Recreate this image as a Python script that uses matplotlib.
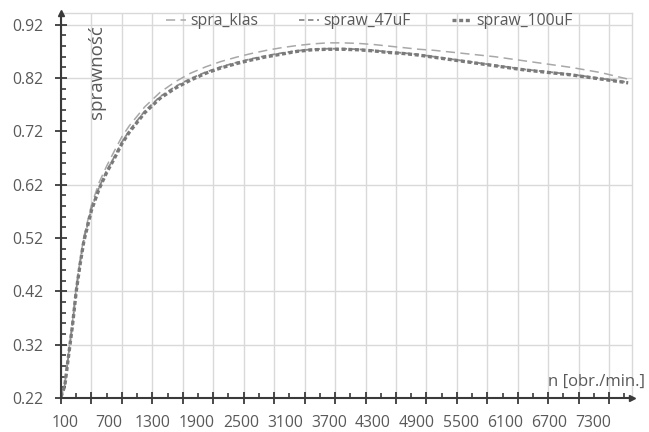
import numpy as np
import matplotlib
matplotlib.use("Agg")
import matplotlib.pyplot as plt

plt.rcParams['font.family'] = ['Open Sans', 'DejaVu Sans']
plt.rcParams['axes.grid'] = False

# rotational speed [rpm] and efficiency of the three motor variants
n_rpm = [100, 150, 200, 250, 300, 350, 400, 500, 600, 700, 800, 900, 1000,
         1200, 1400, 1600, 1800, 2000, 2200, 2400, 2600, 2800, 3000, 3200,
         3400, 3600, 3800, 4000, 4200, 4400, 4600, 4800, 5000, 5200, 5400,
         5600, 5800, 6000, 6200, 6400, 6600, 6800, 7000, 7200, 7400, 7550]

spra_klas = [0.222, 0.248, 0.305, 0.362, 0.428, 0.478, 0.522, 0.582, 0.624,
             0.655, 0.683, 0.710, 0.731, 0.766, 0.793, 0.813, 0.829, 0.841,
             0.851, 0.859, 0.866, 0.872, 0.877, 0.881, 0.884, 0.886, 0.886,
             0.885, 0.883, 0.880, 0.877, 0.874, 0.872, 0.869, 0.866, 0.863,
             0.860, 0.856, 0.852, 0.848, 0.844, 0.840, 0.835, 0.830, 0.823,
             0.818]

spraw_47uF = [0.222, 0.245, 0.302, 0.357, 0.423, 0.473, 0.517, 0.575, 0.615,
              0.646, 0.672, 0.700, 0.722, 0.758, 0.785, 0.804, 0.819, 0.831,
              0.841, 0.849, 0.856, 0.862, 0.867, 0.871, 0.874, 0.875, 0.875,
              0.874, 0.872, 0.869, 0.867, 0.864, 0.860, 0.856, 0.852, 0.848,
              0.844, 0.840, 0.836, 0.833, 0.830, 0.827, 0.823, 0.819, 0.815,
              0.812]

spraw_100uF = [0.222, 0.243, 0.300, 0.355, 0.420, 0.470, 0.514, 0.572, 0.612,
               0.643, 0.669, 0.697, 0.719, 0.755, 0.782, 0.801, 0.816, 0.829,
               0.839, 0.847, 0.854, 0.860, 0.865, 0.870, 0.873, 0.874, 0.874,
               0.873, 0.871, 0.868, 0.866, 0.863, 0.859, 0.855, 0.851, 0.847,
               0.843, 0.839, 0.835, 0.832, 0.829, 0.826, 0.822, 0.818, 0.814,
               0.811]

x_labels = ['100', '700', '1300', '1900', '2500', '3100', '3700', '4300',
            '4900', '5500', '6100', '6700', '7300']
y_ticks = [0.22, 0.32, 0.42, 0.52, 0.62, 0.72, 0.82, 0.92]
y_grid = [0.32, 0.42, 0.62, 0.82, 0.92]

TXT = '#595959'
AXC = '#3a3a3a'
GRID = '#d9d9d9'
FS = 11.3

W, H = 649, 432
fig = plt.figure(figsize=(W / 100, H / 100), dpi=100)
ax = fig.add_axes([61 / W, 1 - 398 / H, (632 - 61) / W, (398 - 13) / H])

ax.set_xlim(100, 7600)
ax.set_ylim(0.22, 0.942)

# grid: vertical lines at the major x ticks, selected horizontal lines
ax.set_xticks(np.arange(100, 7601, 400))
ax.set_xticks(np.arange(300, 7601, 400), minor=True)
ax.yaxis.grid(False, which='both')
ax.xaxis.grid(True, which='major', color=GRID, lw=1.0)
for g in y_grid:
    ax.axhline(g, color=GRID, lw=1.0, zorder=0.5)
ax.set_axisbelow(True)

# curves
ax.plot(n_rpm, spra_klas, color='#a8a8a8', lw=1.1, linestyle=(0, (6, 3.5)),
        label='spra_klas', zorder=3)
ax.plot(n_rpm, spraw_47uF, color='#8a8a8a', lw=1.3, linestyle=(0, (3, 2)),
        label='spraw_47uF', zorder=4)
ax.plot(n_rpm, spraw_100uF, color='#7a7a7a', lw=2.4, linestyle=(0, (1.2, 0.8)),
        label='spraw_100uF', zorder=5)

# spines
for s in ('top', 'right'):
    ax.spines[s].set_color(GRID)
    ax.spines[s].set_linewidth(1.0)
for s in ('left', 'bottom'):
    ax.spines[s].set_color(AXC)
    ax.spines[s].set_linewidth(1.5)
    ax.spines[s].set_zorder(6)

# axis arrows
ax.plot([1.0], [0.0], marker='>', ms=5, color=AXC, transform=ax.transAxes,
        clip_on=False, zorder=7)
ax.plot([0.0], [1.0], marker='^', ms=4, color=AXC, transform=ax.transAxes,
        clip_on=False, zorder=7)

# y ticks
ax.set_yticks(y_ticks)
ax.set_yticklabels([f'{v:.2f}' for v in y_ticks])
ax.set_yticks(np.arange(0.24, 0.94, 0.02), minor=True)
ax.tick_params(axis='y', which='major', direction='inout', length=9,
               width=1.3, color=AXC, labelsize=FS, labelcolor=TXT, pad=8.5)
ax.tick_params(axis='y', which='minor', direction='in', length=3.5,
               width=1.2, color=AXC)

# x ticks (marks only; labels drawn below)
ax.tick_params(axis='x', which='major', direction='inout', length=9,
               width=1.3, color=AXC, labelbottom=False)
ax.tick_params(axis='x', which='minor', direction='in', length=3.5,
               width=1.2, color=AXC)

label_step = 44.0 / (632 - 61)
for i, lab in enumerate(x_labels):
    ax.text(4.0 / (632 - 61) + i * label_step, -25.0 / (398 - 13), lab,
            transform=ax.transAxes, ha='center', va='center',
            fontsize=FS, color=TXT)

# axis titles
ax.text((645 - 61) / (632 - 61), (398 - 382) / (398 - 13), 'n [obr./min.]',
        transform=ax.transAxes, ha='right', va='center', fontsize=12,
        color=TXT)
fig.text(97 / W, 1 - 72 / H, 'sprawność', rotation=90, ha='center',
         va='center', fontsize=13.5, color=TXT)

# legend
leg = ax.legend(loc='upper left', bbox_to_anchor=(166 / W, 1 - 13 / H),
                bbox_transform=fig.transFigure, ncol=3, frameon=False,
                borderpad=0, borderaxespad=0, handlelength=1.25,
                handletextpad=0.3, columnspacing=2.6, fontsize=FS)
for t in leg.get_texts():
    t.set_color(TXT)

fig.savefig('out.png', dpi=100)
